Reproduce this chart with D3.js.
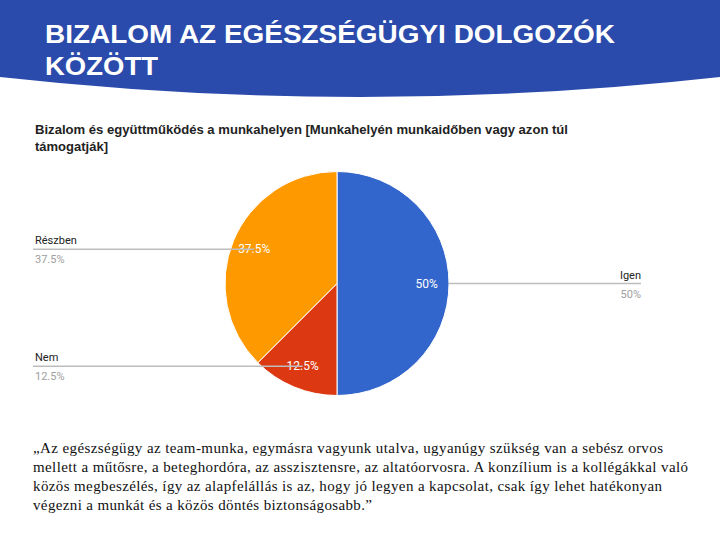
<!DOCTYPE html>
<html lang="hu">
<head>
<meta charset="utf-8">
<title>Bizalom az egészségügyi dolgozók között</title>
<style>
  body { margin: 0; background: #fff; }
  svg { display: block; }
</style>
</head>
<body>
<script src="https://cdn.jsdelivr.net/npm/d3@7"></script>
<script>
var categories = ["Igen", "Nem", "Részben"];
var values = [50, 12.5, 37.5];
var colors = ["#3366cc", "#dc3912", "#ff9900"];
var titleLines = ["BIZALOM AZ EGÉSZSÉGÜGYI DOLGOZÓK", "KÖZÖTT"];
var chartTitle = ["Bizalom és együttműködés a munkahelyen [Munkahelyén munkaidőben vagy azon túl",
                  "támogatják]"];
var quote = [
  "„Az egészségügy az team-munka, egymásra vagyunk utalva, ugyanúgy szükség van a sebész orvos",
  "mellett a műtősre, a beteghordóra, az asszisztensre, az altatóorvosra. A konzílium is a kollégákkal való",
  "közös megbeszélés, így az alapfelállás is az, hogy jó legyen a kapcsolat, csak így lehet hatékonyan",
  "végezni a munkát és a közös döntés biztonságosabb.”"
];

var w = 720, h = 540;
var svg = d3.select("body").append("svg").attr("width", w).attr("height", h);

// fejléc sáv, ívelt alsó széllel
svg.append("path")
  .attr("d", "M0,0 H720 V77 Q360,117 0,77 Z")
  .attr("fill", "#2a4bab");

var headLen = [570, 113];
svg.selectAll("text.head")
  .data(titleLines)
  .enter().append("text")
  .attr("class", "head")
  .attr("x", 45)
  .attr("y", function(d, i) { return 43 + i * 32; })
  .attr("textLength", function(d, i) { return headLen[i]; })
  .attr("lengthAdjust", "spacingAndGlyphs")
  .attr("fill", "#fff")
  .style("font-family", "Liberation Sans, Arial, sans-serif")
  .style("font-weight", "bold")
  .style("font-size", "25px")
  .text(function(d) { return d; });

svg.selectAll("text.ctitle")
  .data(chartTitle)
  .enter().append("text")
  .attr("class", "ctitle")
  .attr("x", 35)
  .attr("y", function(d, i) { return 134 + i * 17; })
  .attr("textLength", function(d, i) { return i === 0 ? 533 : null; })
  .attr("lengthAdjust", "spacingAndGlyphs")
  .attr("fill", "#222")
  .style("font-family", "Liberation Sans, Arial, sans-serif")
  .style("font-weight", "bold")
  .style("font-size", "13px")
  .text(function(d) { return d; });

// kördiagram
var cx = 337, cy = 283.5, r = 112;
var pie = d3.pie().sort(null).value(function(d) { return d; });
var arcs = pie(values);
var arc = d3.arc().innerRadius(0).outerRadius(r);
var labelArc = d3.arc().innerRadius(r * 0.8).outerRadius(r * 0.8);

var g = svg.append("g").attr("transform", "translate(" + cx + "," + cy + ")");

// vezetővonalak és feliratok
var fmt = function(v) { return v + "%"; };
var legend = [
  { i: 0, side: "right", x: 641 },
  { i: 1, side: "left", x: 35 },
  { i: 2, side: "left", x: 35 }
];

legend.forEach(function(l) {
  var p = labelArc.centroid(arcs[l.i]);
  var ly = cy + p[1];
  var x1 = l.side === "left" ? 33 : cx + r;
  var x2 = l.side === "left" ? cx + p[0] : 641;
  svg.append("line")
    .attr("x1", x1).attr("x2", x2)
    .attr("y1", ly).attr("y2", ly)
    .attr("stroke", "#bdbdbd").attr("stroke-width", 1.5);
  svg.append("text")
    .attr("x", l.x).attr("y", ly - 5)
    .attr("text-anchor", l.side === "left" ? "start" : "end")
    .attr("fill", "#222")
    .style("font-family", "Roboto, Arial, sans-serif")
    .style("font-size", "11px")
    .text(categories[l.i]);
  svg.append("text")
    .attr("x", l.x).attr("y", ly + 14)
    .attr("text-anchor", l.side === "left" ? "start" : "end")
    .attr("fill", "#9e9e9e")
    .style("font-family", "Roboto, Arial, sans-serif")
    .style("font-size", "11px")
    .text(fmt(values[l.i]));
});

g.selectAll("path")
  .data(arcs)
  .enter().append("path")
  .attr("d", arc)
  .attr("fill", function(d, i) { return colors[i]; })
  .attr("stroke", "#fff")
  .attr("stroke-width", 1);

g.selectAll("text.slice")
  .data(arcs)
  .enter().append("text")
  .attr("class", "slice")
  .attr("transform", function(d) { return "translate(" + labelArc.centroid(d) + ")"; })
  .attr("dy", "0.35em")
  .attr("text-anchor", "middle")
  .attr("fill", "#fff")
  .style("font-family", "Roboto, Arial, sans-serif")
  .style("font-size", "12px")
  .text(function(d) { return fmt(d.data); });

// idézet
var quoteLen = [630, 655, 629, 339];
svg.selectAll("text.quote")
  .data(quote)
  .enter().append("text")
  .attr("class", "quote")
  .attr("x", 33)
  .attr("y", function(d, i) { return 453 + i * 19; })
  .attr("textLength", function(d, i) { return quoteLen[i]; })
  .attr("lengthAdjust", "spacing")
  .attr("fill", "#111")
  .style("font-family", "Liberation Serif, Times New Roman, serif")
  .style("font-size", "15px")
  .text(function(d) { return d; });
</script>
</body>
</html>
